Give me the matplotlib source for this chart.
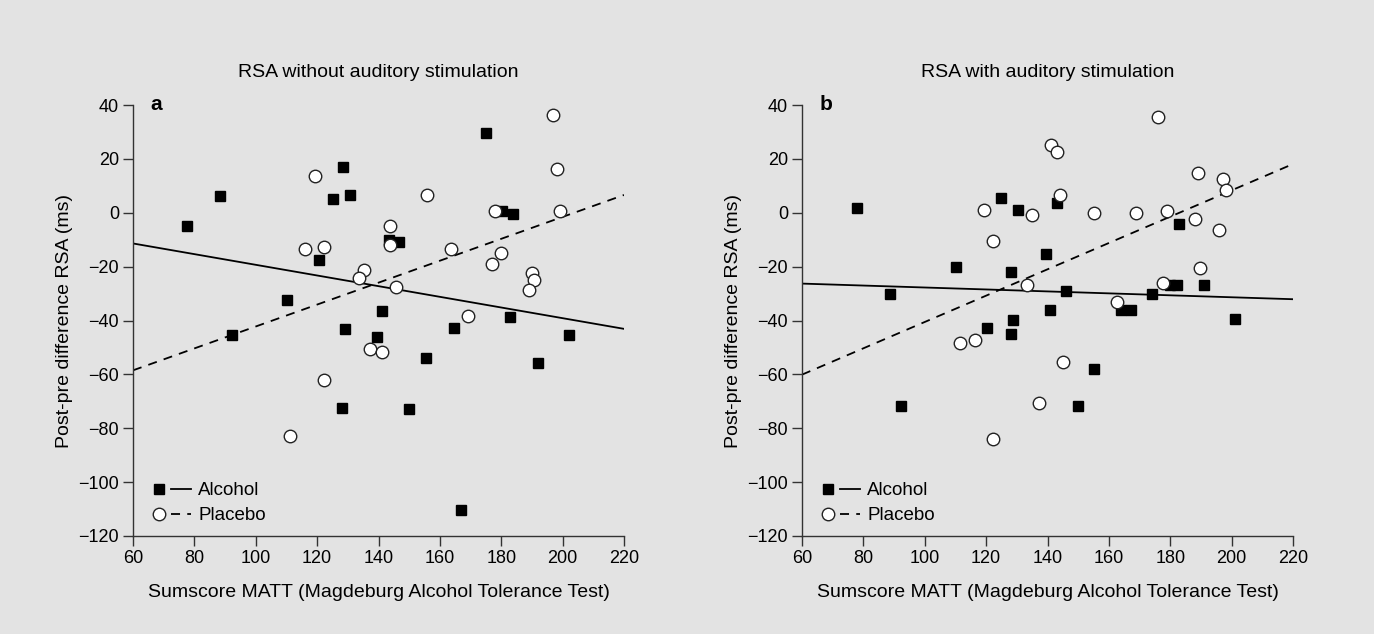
import numpy as np
import matplotlib
matplotlib.use('Agg')
import matplotlib.pyplot as plt
from matplotlib.lines import Line2D
from matplotlib.legend_handler import HandlerTuple

plt.rcParams['font.family'] = ['Liberation Sans', 'DejaVu Sans']

# panel a: RSA without auditory stimulation
a_alc_x = [77.6, 88.3, 92.2, 110.2, 120.7, 128.5, 125.1, 130.7, 143.5, 146.6, 175.0, 180.1,
           183.7, 129.0, 141.3, 139.6, 128.0, 164.6, 155.4, 150.0, 182.8, 202.0, 191.9, 167.0]
a_alc_y = [-4.9, 6.2, -45.5, -32.5, -17.7, 16.9, 5.1, 6.7, -10.1, -10.8, 29.7, 0.6,
           -0.4, -43.0, -36.4, -46.3, -72.5, -42.9, -54.1, -72.7, -38.7, -45.2, -55.9, -110.5]
a_pla_x = [119.4, 116.1, 122.4, 143.6, 143.9, 135.4, 133.7, 145.7, 196.8, 198.1, 155.8, 178.0,
           199.1, 163.5, 180.0, 177.0, 189.9, 190.8, 188.9, 122.2, 111.2, 137.1, 141.3, 169.2]
a_pla_y = [13.8, -13.6, -12.6, -5.1, -11.8, -21.3, -24.4, -27.5, 36.3, 16.2, 6.7, 0.7,
           0.5, -13.6, -14.9, -19.1, -22.5, -24.8, -28.6, -62.2, -82.9, -50.7, -51.7, -38.5]
# fitted lines read at x = 60 and x = 220
a_alc_fit = [-11.4, -43.1]
a_pla_fit = [-58.5, 6.6]

# panel b: RSA with auditory stimulation
b_alc_x = [77.9, 88.6, 110.2, 125.0, 130.3, 128.2, 139.4, 143.0, 183.0, 146.0, 174.1, 179.9,
           182.1, 191.0, 140.8, 164.1, 167.2, 201.0, 155.1, 149.9, 120.4, 128.9, 128.2, 92.2]
b_alc_y = [1.9, -30.2, -20.1, 5.5, 1.0, -22.0, -15.4, 3.7, -4.1, -29.1, -30.1, -27.0,
           -27.0, -27.0, -36.2, -36.2, -36.2, -39.3, -58.1, -71.9, -42.6, -39.8, -45.1, -71.9]
b_pla_x = [119.3, 122.4, 135.1, 133.4, 141.2, 143.2, 144.2, 176.1, 155.2, 168.8, 179.0, 189.0,
           197.2, 198.1, 188.2, 195.9, 189.8, 177.7, 162.7, 111.5, 116.4, 137.2, 122.1, 145.2]
b_pla_y = [1.0, -10.6, -1.0, -27.0, 25.0, 22.4, 6.5, 35.7, -0.2, -0.2, 0.7, 14.6,
           12.5, 8.6, -2.3, -6.3, -20.6, -26.1, -33.3, -48.2, -47.4, -70.7, -84.1, -55.4]
b_alc_fit = [-26.3, -32.1]
b_pla_fit = [-60.1, 18.1]

fit_x = [60, 220]
titles = ['RSA without auditory stimulation', 'RSA with auditory stimulation']
letters = ['a', 'b']
xlabel = 'Sumscore MATT (Magdeburg Alcohol Tolerance Test)'
ylabel = 'Post-pre difference RSA (ms)'

bg = '#e3e3e3'
dash = (0, (5, 4))
fig = plt.figure(figsize=(13.74, 6.34), dpi=100, facecolor=bg)
panels = [(a_alc_x, a_alc_y, a_pla_x, a_pla_y, a_alc_fit, a_pla_fit),
          (b_alc_x, b_alc_y, b_pla_x, b_pla_y, b_alc_fit, b_pla_fit)]
lefts = [133 / 1374, 802 / 1374]

for i, (ax_, ay_, px_, py_, afit, pfit) in enumerate(panels):
    ax = fig.add_axes([lefts[i], 98 / 634, 491 / 1374, 431 / 634], facecolor=bg)
    ax.plot(fit_x, afit, color='black', lw=1.3, zorder=2)
    ax.plot(fit_x, pfit, color='black', lw=1.3, ls=dash, zorder=2)
    ax.plot(ax_, ay_, ls='none', marker='s', ms=7.5, mfc='black', mec='black', zorder=3)
    ax.plot(px_, py_, ls='none', marker='o', ms=9, mfc='white', mec='#222222', mew=1.0, zorder=4)
    ax.set_xlim(60, 220)
    ax.set_ylim(-120, 40)
    ax.set_xticks(np.arange(60, 221, 20))
    ax.set_yticks(np.arange(-120, 41, 20))
    for s in ['top', 'right']:
        ax.spines[s].set_visible(False)
    for s in ['left', 'bottom']:
        ax.spines[s].set_color('#333333')
        ax.spines[s].set_linewidth(1.0)
    ax.tick_params(direction='out', length=7, width=1.0, color='#333333', labelsize=13, pad=3)
    ax.set_xlabel(xlabel, fontsize=14, labelpad=12)
    ax.set_ylabel(ylabel, fontsize=14, labelpad=4)
    ax.set_title(titles[i], fontsize=14, pad=20)
    ax.text(0.035, 1.0, letters[i], transform=ax.transAxes, fontsize=15, fontweight='bold',
            va='center', ha='left')
    h_alc = (Line2D([], [], ls='none', marker='s', ms=7.5, mfc='black', mec='black'),
             Line2D([], [], color='black', lw=1.3))
    h_pla = (Line2D([], [], ls='none', marker='o', ms=9, mfc='white', mec='#222222'),
             Line2D([], [], color='black', lw=1.3, ls=dash))
    ax.legend([h_alc, h_pla], ['Alcohol', 'Placebo'], loc='lower left',
              handler_map={tuple: HandlerTuple(ndivide=None, pad=0.1)},
              handlelength=2.2, handletextpad=0.4, frameon=False, fontsize=13.5,
              bbox_to_anchor=(0.018, 0.01), borderaxespad=0, labelspacing=0.42)

fig.savefig('out.png', dpi=100, facecolor=bg)
